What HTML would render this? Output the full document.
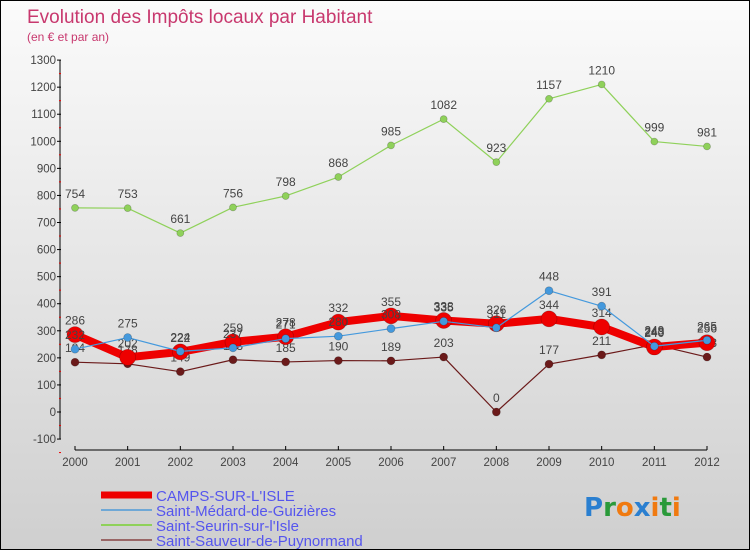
<!DOCTYPE html>
<html><head><meta charset="utf-8"><style>
html,body{margin:0;padding:0;}
body{width:750px;height:550px;overflow:hidden;font-family:"Liberation Sans",sans-serif;}
#wrap{position:relative;width:748px;height:548px;border:1px solid #000;background:linear-gradient(#fbfbfb,#cfcfcf);}
</style></head><body>
<div id="wrap">
<svg id="chart" width="748" height="548" style="position:absolute;left:0;top:0"></svg>
</div>
<script>
const years=[2000,2001,2002,2003,2004,2005,2006,2007,2008,2009,2010,2011,2012];
const camps=[286,202,222,259,278,332,355,338,326,344,314,240,256];
const medard=[232,275,224,237,271,280,308,335,311,448,391,243,265];
const seurin=[754,753,661,756,798,868,985,1082,923,1157,1210,999,981];
const sauveur=[184,178,149,193,185,190,189,203,0,177,211,249,203];
const yTicks=[-100,0,100,200,300,400,500,600,700,800,900,1000,1100,1200,1300];
const NS='http://www.w3.org/2000/svg';
const svg=document.getElementById('chart');
function xS(i){return 74+i*(706-74)/(years.length-1);}
function yS(v){return 411-v*0.2707;}
function mk(t,a,p){const e=document.createElementNS(NS,t);for(const k in a)e.setAttribute(k,a[k]);(p||svg).appendChild(e);return e;}
function txt(x,y,s,a,col,size,anchor){const e=mk('text',Object.assign({x:x,y:y,fill:col||'#444','font-size':size||12,'text-anchor':anchor||'middle','font-family':'Liberation Sans, sans-serif'},a||{}));e.textContent=s;return e;}
// title
let t=txt(26,22,'Evolution des Impôts locaux par Habitant',{},'#c8386e',19,'start');

t=txt(26,40,'(en € et par an)',{},'#c8386e',12,'start');

// axes
let ax=mk('line',{x1:59,y1:yS(1300),x2:59,y2:yS(-100),stroke:'#000','stroke-width':1});

yTicks.forEach(v=>{const y=yS(v);mk('line',{x1:56,y1:y,x2:60,y2:y,stroke:'#000'});
 mk('line',{x1:58,y1:y+13.5,x2:60,y2:y+13.5,stroke:'#e00'});
 const l=txt(55,y+4,String(v),{},'#444',11.5,'end');
 });
ax=mk('line',{x1:xS(0),y1:449,x2:xS(12),y2:449,stroke:'#000'});

years.forEach((yr,i)=>{mk('line',{x1:xS(i),y1:445,x2:xS(i),y2:449,stroke:'#000'});
 const l=txt(xS(i),465,String(yr),{},'#444',11.5);
 });
function series(data,col,w,r,name,labCol){
 const g=mk('g',{});
 mk('polyline',{points:data.map((v,i)=>xS(i)+','+yS(v)).join(' '),fill:'none',stroke:col,'stroke-width':w,'stroke-linejoin':'round'},g);
 data.forEach((v,i)=>{const c=mk('circle',{cx:xS(i),cy:yS(v),r:r,fill:col,stroke:'rgba(0,0,0,0.25)','stroke-width':0.7},g);
  
  const l=txt(xS(i),yS(v)-10,String(v),{},'#444',12,'middle',g);g.appendChild(l);
  });
}
series(seurin,'#8fd15a',1.2,3.5,'series-saint-seurin');
series(sauveur,'#6b1a1a',1.2,4,'series-saint-sauveur');
series(camps,'#ee0000',8,8,'series-camps');
series(medard,'#4499dd',1.2,4,'series-saint-medard');
// legend
const leg=[['CAMPS-SUR-L\'ISLE','#ee0000',7],['Saint-Médard-de-Guizières','#6fa8d6',2],['Saint-Seurin-sur-l\'Isle','#8fd15a',2],['Saint-Sauveur-de-Puynormand','#996666',2]];
leg.forEach((e,i)=>{const y=494+i*15;const g=mk('g',{});
 
 mk('line',{x1:100,y1:y,x2:151,y2:y,stroke:e[1],'stroke-width':e[2]},g);
 const l=txt(155,y+6,e[0],{},'#5555ee',15,'start');g.appendChild(l);});
// logo
const lg=mk('text',{x:583,y:515,'font-size':26,'font-family':'DejaVu Sans, sans-serif','font-weight':'bold'});

[['P','#2a7fd0'],['r','#2a9a3a'],['o','#f07a10'],['x','#2a7fd0'],['i','#f07a10'],['t','#2a9a3a'],['i','#f07a10']].forEach(c=>{const s=mk('tspan',{fill:c[1]},lg);s.textContent=c[0];});
</script>
</body></html>
